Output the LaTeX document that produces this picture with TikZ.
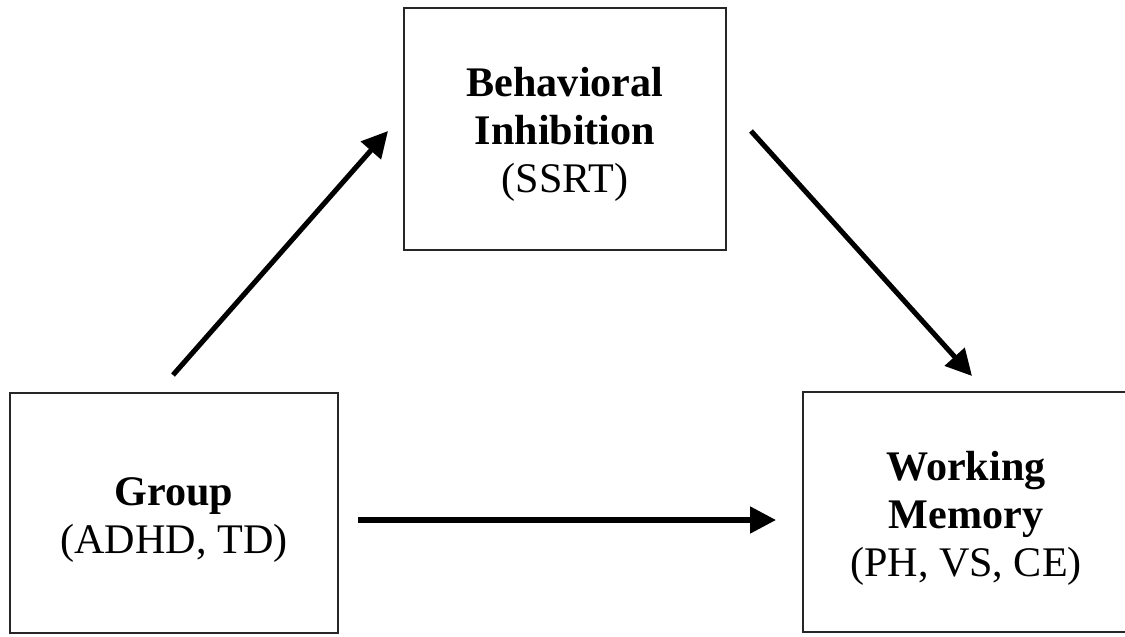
\documentclass[tikz,border=0pt]{standalone}
\usepackage{fontspec}
\setmainfont{Liberation Serif}
\usetikzlibrary{arrows.meta}
\begin{document}
\begin{tikzpicture}[x=0.75pt,y=-0.75pt,
  box/.style={draw=black!85,line width=1.3pt,inner sep=0pt},
  txt/.style={align=center,inner sep=0pt,font=\fontsize{31.6}{36}\selectfont},
  arr/.style={line width=3.8pt,-{Triangle[length=19.5pt,width=19.5pt]}}]
\useasboundingbox (0,0) rectangle (1125,636);
\clip (0,0) rectangle (1125,636);
\fill[white] (0,0) rectangle (1125,636);
% boxes
\node[box,minimum width=242pt,minimum height=181.5pt] (bi) at (565,129) {};
\node[box,minimum width=246pt,minimum height=180pt] (grp) at (174,513) {};
\node[box,minimum width=244.5pt,minimum height=180pt] (wm) at (966,512) {};
% texts
\node[txt] (bit) at (565,134.5) {\textbf{Behavioral}\\\textbf{Inhibition}\\(SSRT)};
\node[txt] (grpt) at (174,520) {\textbf{Group}\\(ADHD, TD)};
\node[txt] (wmt) at (966,518) {\textbf{Working}\\\textbf{Memory}\\(PH, VS, CE)};
% arrow end points
\coordinate (a1s) at (173,375);
\coordinate (a1e) at (388,131);
\coordinate (a2s) at (751,131);
\coordinate (a2e) at (972,376);
\coordinate (a3s) at (358,520);
\coordinate (a3e) at (776,520);
\draw[arr] (a1s) -- (a1e);
\draw[arr] (a2s) -- (a2e);
\draw[arr] (a3s) -- (a3e);
\end{tikzpicture}
\end{document}
